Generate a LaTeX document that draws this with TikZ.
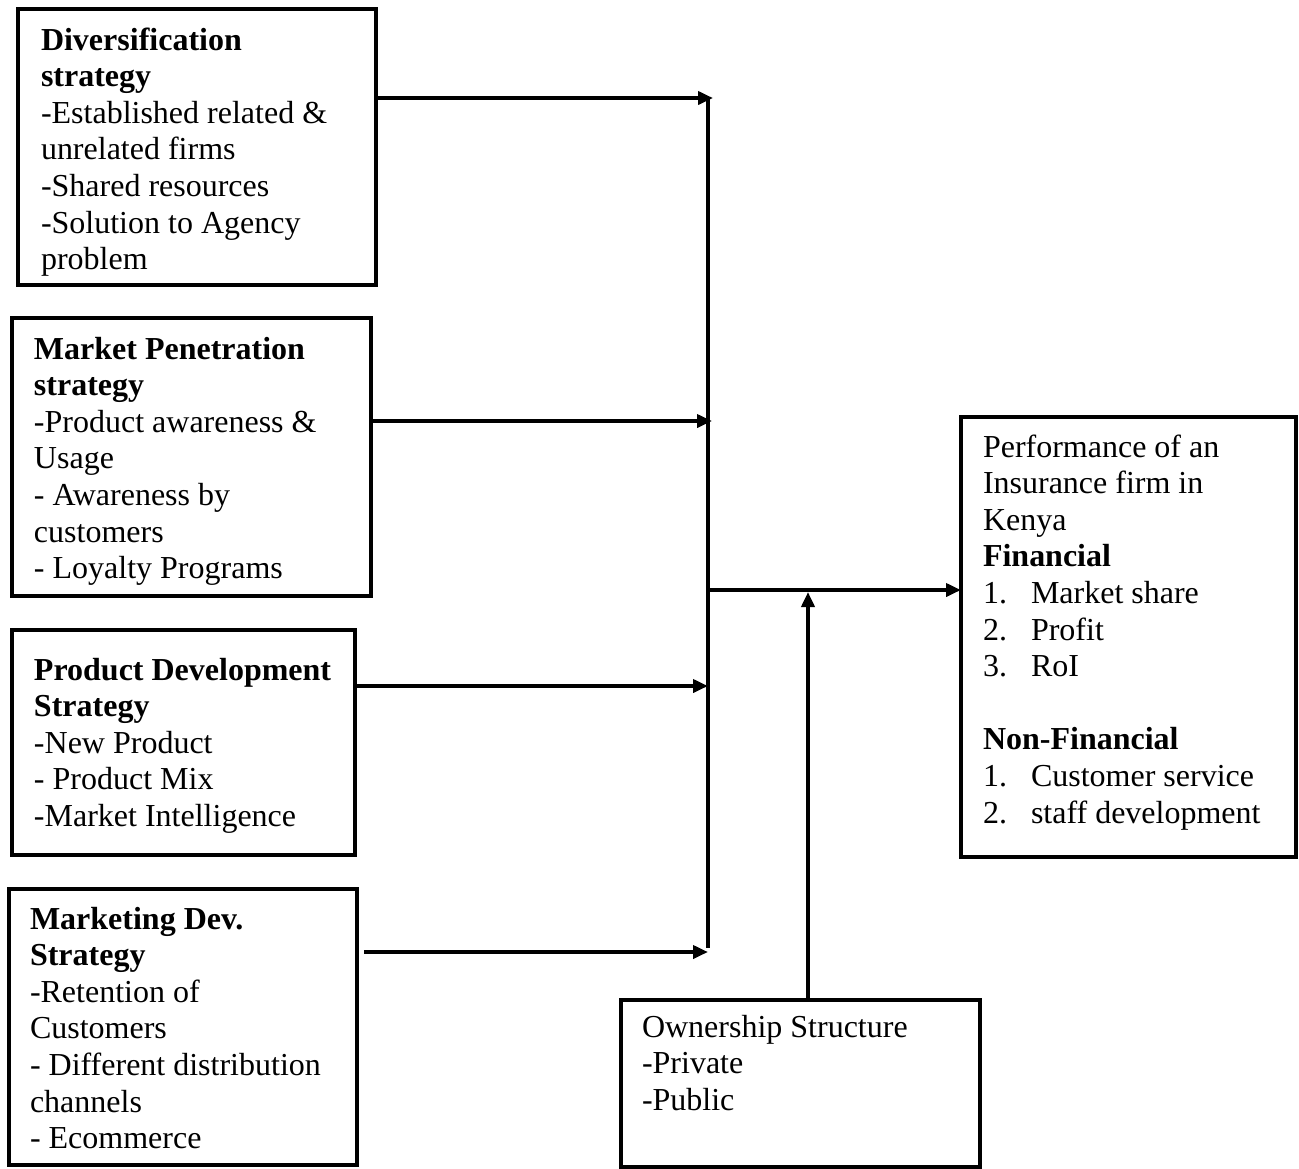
\documentclass[tikz,border=0pt]{standalone}
\usepackage{fontspec}
\setmainfont{Liberation Serif}
\usetikzlibrary{arrows.meta}
\newcommand{\boxlines}[1]{\vtop{\baselineskip=36.6pt\lineskiplimit=-100pt #1}}
\newcommand{\pln}[1]{\hbox{#1}}
\newcommand{\bln}[1]{\hbox{\bfseries #1}}
\newcommand{\itm}[2]{\hbox{\makebox[48pt][l]{#1}#2}}
\begin{document}
\begin{tikzpicture}[x=1pt,y=-1pt,
  box/.style={draw, line width=4pt, inner sep=0pt, outer sep=0pt},
  txt/.style={anchor=base west, inner sep=0pt, outer sep=0pt, font=\fontsize{32}{36.6}\selectfont},
  conn/.style={line width=3.7pt},
  arr/.style={line width=3.7pt, -{Triangle[length=15pt,width=13pt]}}]
\useasboundingbox[fill=white] (0,0) rectangle (1299,1168);
% boxes
\node[box, minimum width=357.5pt, minimum height=276pt] (b1) at (196.75,147) {};
\node[box, minimum width=359pt, minimum height=278pt] (b2) at (191.5,457) {};
\node[box, minimum width=343pt, minimum height=225pt] (b3) at (183.5,742.5) {};
\node[box, minimum width=348pt, minimum height=276pt] (b4) at (183,1027) {};
\node[box, minimum width=334.5pt, minimum height=440pt] (b5) at (1128.25,637) {};
\node[box, minimum width=359pt, minimum height=167.5pt] (b6) at (800,1083.25) {};
% texts
\node[txt] (t1) at (41,50) {\boxlines{\bln{Diversification}\bln{strategy}\pln{-Established related \&}\pln{unrelated firms}\pln{-Shared resources}\pln{-Solution to Agency}\pln{problem}}};
\node[txt] (t2) at (34,359) {\boxlines{\bln{Market Penetration}\bln{strategy}\pln{-Product awareness \&}\pln{Usage}\pln{- Awareness by}\pln{customers}\pln{- Loyalty Programs}}};
\node[txt] (t3) at (34,680) {\boxlines{\bln{Product Development}\bln{Strategy}\pln{-New Product}\pln{- Product Mix}\pln{-Market Intelligence}}};
\node[txt] (t4) at (30,929) {\boxlines{\bln{Marketing Dev.}\bln{Strategy}\pln{-Retention of}\pln{Customers}\pln{- Different distribution}\pln{channels}\pln{- Ecommerce}}};
\node[txt] (t5) at (983,457) {\boxlines{\pln{Performance of an}\pln{Insurance firm in}\pln{Kenya}\bln{Financial}\itm{1.}{Market share}\itm{2.}{Profit}\itm{3.}{RoI}\pln{}\bln{Non-Financial}\itm{1.}{Customer service}\itm{2.}{staff development}}};
\node[txt] (t6) at (642,1037) {\boxlines{\pln{Ownership Structure}\pln{-Private}\pln{-Public}}};
% connector points
\coordinate (bt) at (708,98);
\coordinate (bb) at (708,948);
\coordinate (a1) at (713,98);
\coordinate (a2) at (712,421);
\coordinate (a3) at (708,686);
\coordinate (a4) at (708,952);
\coordinate (m) at (708,590);
\coordinate (up) at (808,592);
% connectors
\draw[conn] (bt) -- (bb);
\draw[arr] (b1.east |- a1) -- (a1);
\draw[arr] (b2.east |- a2) -- (a2);
\draw[arr] (b3.east |- a3) -- (a3);
\draw[arr] ([xshift=7pt]b4.east |- a4) -- (a4);
\draw[arr] (m) -- (b5.west |- m);
\draw[arr] (b6.north -| up) -- (up);
\end{tikzpicture}
\end{document}
